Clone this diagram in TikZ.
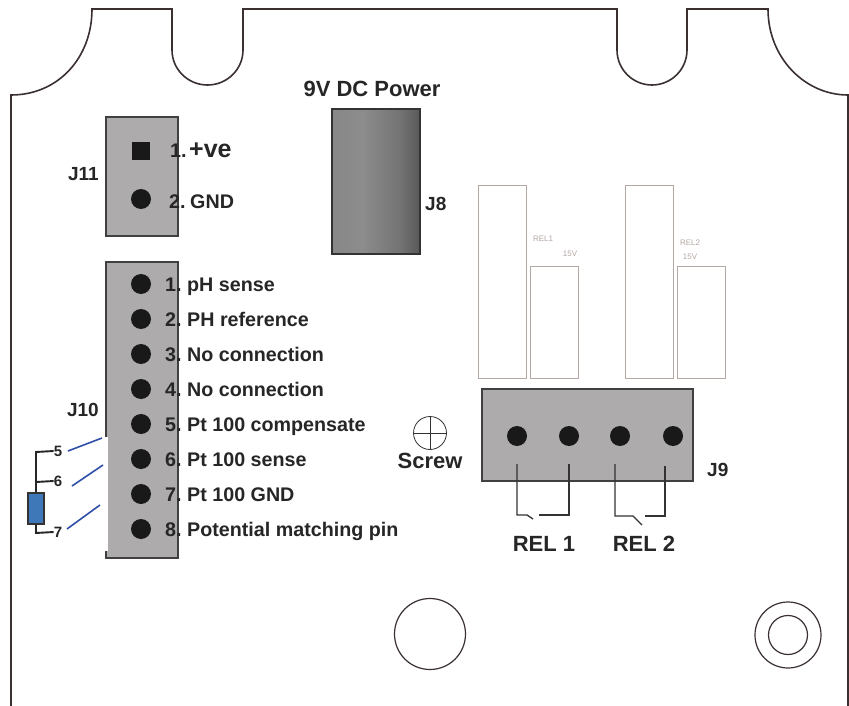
\documentclass[tikz,border=0pt]{standalone}
\usepackage{fontspec}
\setmainfont{Liberation Sans}
\definecolor{boardline}{HTML}{3A3030}
\definecolor{conn}{HTML}{ADABAB}
\definecolor{relline}{HTML}{B5A8A4}
\definecolor{wireblue}{HTML}{2F4FA8}
\definecolor{resblue}{HTML}{3F78B8}
\pgfdeclarehorizontalshading{jackshade}{88bp}{
 color(0bp)=(black!55);
 color(10bp)=(black!48);
 color(36bp)=(black!45);
 color(58bp)=(black!55);
 color(72bp)=(black!68);
 color(88bp)=(black!85)}
\tikzset{
 x=1pt,y=-1pt,
 outline/.style={draw=boardline,line width=1.6pt},
 connbox/.style={draw=black!75,line width=1.2pt,fill=conn},
 pin/.style={circle,fill=black!90,inner sep=0pt,minimum size=20pt},
 sqpin/.style={rectangle,fill=black!90,inner sep=0pt,minimum size=18pt},
 lbl/.style={inner sep=0pt,anchor=base west,font=\bfseries\fontsize{19.7}{22}\selectfont,text=black!85},
 jlbl/.style={inner sep=0pt,font=\bfseries\fontsize{19}{22}\selectfont,text=black!85},
 big/.style={inner sep=0pt,font=\bfseries\fontsize{22}{26}\selectfont,text=black!85},
 relbox/.style={draw=relline,line width=.8pt},
 tiny/.style={inner sep=0pt,font=\fontsize{8}{9}\selectfont,text=relline},
 wire/.style={draw=black!80,line width=1.3pt},
 thickwire/.style={draw=black!85,line width=1.9pt},
 bluew/.style={draw=wireblue,line width=1.6pt},
 res/.style={draw=black!80,line width=1.8pt,fill=resblue,minimum width=16pt,minimum height=30pt,inner sep=0pt},
 num/.style={inner sep=0pt,font=\bfseries\fontsize{15}{17}\selectfont,text=black!85},
}
\begin{document}
\begin{tikzpicture}
\useasboundingbox (0,0) rectangle (849,706);
\fill[white] (0,0) rectangle (849,706);
% board outline
\draw[outline] (11,706) -- (11,95)
  .. controls (58,95) and (92,58) .. (92,9) -- (172,9) -- (172,50)
  arc[start angle=180,end angle=360,x radius=35.5,y radius=-35] -- (243,9)
  -- (617,9) -- (617,50)
  arc[start angle=180,end angle=360,x radius=35,y radius=-35] -- (687,9)
  -- (768,9) .. controls (768,58) and (805,95) .. (848,95) -- (848,706);
% J11
\node[connbox,minimum width=72pt,minimum height=119pt,inner sep=0pt] (j11) at (142,176.5) {};
\node[sqpin] (p1) at (141,151) {};
\node[pin] (p2) at (141,199) {};
\node[jlbl,anchor=base east] (lj11) at (99,180) {J11};
\node[lbl] (t1) at (170,158) {\makebox[19pt][l]{1.}{\fontsize{25}{28}\selectfont +ve}};
\node[lbl] (t2) at (169,208) {\makebox[21pt][l]{2.}GND};
% J10
\node[connbox,minimum width=72pt,minimum height=296pt,inner sep=0pt] (j10) at (142,410) {};
\fill[white] (25,437) rectangle (108,551);
\foreach \n/\y/\t in {1/284/pH sense,2/319/PH reference,3/354/No connection,4/389/No connection,5/424/Pt 100 compensate,6/459/Pt 100 sense,7/494/Pt 100 GND,8/529/Potential matching pin}{
  \node[pin] (h\n) at (141,\y) {};
  \node[lbl] (l\n) at (165,\y+7) {\makebox[22pt][l]{\n.}\t};
}
\node[jlbl,anchor=base east] (lj10) at (99,416) {J10};
% Pt100 inset
\node[num] (n5) at (58,451) {5};
\node[num] (n6) at (58,481) {6};
\node[num] (n7) at (58,532) {7};
\node[res,minimum height=31pt] (r) at (36,508.5) {};
\draw[thickwire] (n5.west) -- (36,452) -- (r.north);
\draw[thickwire] (n6.west) -- (36,482);
\draw[thickwire] (r.south) -- (36,533) -- (n7.west);
\coordinate (b5a) at (68,451); \coordinate (b5b) at (102,438);
\coordinate (b6a) at (72,486); \coordinate (b6b) at (103,465);
\coordinate (b7a) at (67,529); \coordinate (b7b) at (100,505);
\draw[bluew] (b5a) -- (b5b);
\draw[bluew] (b6a) -- (b6b);
\draw[bluew] (b7a) -- (b7b);
% J8
\node[inner sep=0pt,draw=black!80,line width=1.4pt,minimum width=88pt,minimum height=145pt,
  shading=jackshade,shading angle=0] (j8) at (376,181.5) {};
\node[big] (p9) at (372,89) {9V DC Power};
\node[jlbl,anchor=base west] (lj8) at (425,210) {J8};
% relays
\node[relbox,minimum width=48pt,minimum height=193pt,inner sep=0pt] (r1a) at (502,281.5) {};
\node[relbox,minimum width=48pt,minimum height=112pt,inner sep=0pt] (r1b) at (554,322) {};
\node[relbox,minimum width=48pt,minimum height=193pt,inner sep=0pt] (r2a) at (649,281.5) {};
\node[relbox,minimum width=48pt,minimum height=112pt,inner sep=0pt] (r2b) at (701,322) {};
\node[tiny] (tr1) at (543,239) {REL1};
\node[tiny] (tv1) at (570,254) {15V};
\node[tiny] (tr2) at (690,243) {REL2};
\node[tiny] (tv2) at (690,257) {15V};
% J9
\node[connbox,minimum width=211pt,minimum height=92pt,inner sep=0pt] (j9) at (587.5,435) {};
\foreach \n/\x in {1/517,2/569,3/620,4/673}{ \node[pin] (q\n) at (\x,436) {}; }
\node[jlbl,anchor=base west] (lj9) at (707,476) {J9};
\coordinate (a1) at (517,464); \coordinate (a2) at (569,464);
\coordinate (a3) at (615,464); \coordinate (a4) at (665,466);
\draw[wire] (a1) -- (517,515) -- (527,515) -- (533,519);
\draw[wire] (a2) -- (569,515) -- (539,515);
\draw[wire] (a3) -- (615,516) -- (633,516) -- (642,525);
\draw[wire] (a4) -- (665,516) -- (645,516);
\node[big] (rel1) at (544,544) {REL 1};
\node[big] (rel2) at (644,544) {REL 2};
% screw
\node[draw=black!80,line width=.8pt,circle,inner sep=0pt,minimum size=33pt] (s) at (430,433) {};
\draw[black!80,line width=.8pt] (s.north) -- (s.south) (s.west) -- (s.east);
\node[big] (st) at (430,461) {Screw};
% mounting holes
\node[draw=boardline,line width=1.2pt,circle,inner sep=0pt,minimum size=71pt] (m1) at (430,634) {};
\node[draw=boardline,line width=1.2pt,circle,inner sep=0pt,minimum size=66pt] (m2) at (788,635) {};
\node[draw=boardline,line width=1.2pt,circle,inner sep=0pt,minimum size=39pt] (m3) at (788,635) {};
\end{tikzpicture}
\end{document}
